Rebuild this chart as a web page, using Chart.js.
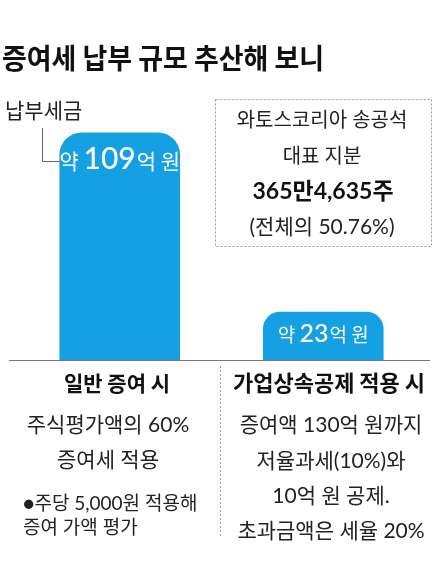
<!DOCTYPE html>
<html><head><meta charset="utf-8">
<script src="https://cdn.jsdelivr.net/npm/chart.js@4"></script>
<style>html,body{margin:0;padding:0;background:#fff;}#wrap{width:441px;height:567px;position:relative;}</style>
</head><body><div id="wrap"><canvas id="c" width="441" height="567"></canvas></div>
<script>
// ---- data ----
const chartTitle = '증여세 납부 규모 추산해 보니';
const categories = ['일반 증여 시', '가업상속공제 적용 시'];
const taxValues = [109, 23];            // 억 원
const valueNumbers = ['109', '23'];
const valuePrefix = '약 ';
const valueSuffix = '억 원';
const seriesName = '납부세금';
const boxLines = ['와토스코리아 송공석', '대표 지분', '365만4,635주', '(전체의 50.76%)'];
const leftNotes = ['주식평가액의 60%', '증여세 적용'];
const leftFootnote = ['●주당 5,000원 적용해', '증여 가액 평가'];
const rightNotes = ['증여액 130억 원까지', '저율과세(10%)와', '10억 원 공제.', '초과금액은 세율 20%'];

const KR = "'Noto Sans CJK KR', sans-serif";
const MIX = "Lato, 'Noto Sans CJK KR', sans-serif";
const BLUE = '#16a0e4';

function txt(ctx, s, x, y, font, color, align, maxW) {
  ctx.font = font; ctx.fillStyle = color; ctx.textAlign = align || 'left';
  ctx.textBaseline = 'alphabetic';
  if (maxW) ctx.fillText(s, x, y, maxW); else ctx.fillText(s, x, y);
}

const deco = {
  id: 'deco',
  beforeDraw(chart) {
    const ctx = chart.ctx;
    ctx.save(); ctx.fillStyle = '#fff'; ctx.fillRect(0, 0, chart.width, chart.height); ctx.restore();
  },
  afterDatasetsDraw(chart) {
    const ctx = chart.ctx;
    const area = chart.chartArea;
    const meta = chart.getDatasetMeta(0);
    ctx.save();
    // baseline
    ctx.strokeStyle = '#7a7a7a'; ctx.lineWidth = 1;
    ctx.beginPath(); ctx.moveTo(9, Math.round(area.bottom) + 0.5); ctx.lineTo(430, Math.round(area.bottom) + 0.5); ctx.stroke();

    // value labels inside bars
    const sizes = [{k: 21, n: 30, off: 36}, {k: 19, n: 25, off: 30}];
    meta.data.forEach((el, i) => {
      const sz = sizes[i];
      const base = el.y + sz.off;
      const fK = `400 ${sz.k}px ${KR}`, fN = `500 ${sz.n}px ${MIX}`;
      ctx.font = fK; const w1 = ctx.measureText(valuePrefix).width;
      const w3 = ctx.measureText(valueSuffix).width;
      ctx.font = fN; const w2 = ctx.measureText(valueNumbers[i]).width;
      let x = el.x - (w1 + w2 + w3 + 1) / 2;
      txt(ctx, valuePrefix, x, base, fK, '#fff'); x += w1;
      txt(ctx, valueNumbers[i], x, base, fN, '#fff'); x += w2 + 1;
      txt(ctx, valueSuffix, x, base, fK, '#fff');
    });

    // series label + leader line
    const b0 = meta.data[0];
    txt(ctx, seriesName, 5, 118, `400 21px ${KR}`, '#222');
    ctx.strokeStyle = '#666'; ctx.lineWidth = 1;
    ctx.beginPath(); ctx.moveTo(42.5, 128); ctx.lineTo(42.5, 161.5); ctx.lineTo(b0.x - b0.width / 2, 161.5); ctx.stroke();

    // title
    txt(ctx, chartTitle, 2, 69, `700 28px ${KR}`, '#111', 'left', 322);

    // dotted box
    ctx.setLineDash([2, 2]); ctx.strokeStyle = '#9a9a9a';
    ctx.strokeRect(215.5, 99.5, 216, 147);
    // divider
    ctx.beginPath(); ctx.moveTo(220.5, 366); ctx.lineTo(220.5, 538); ctx.stroke();
    ctx.setLineDash([]);

    txt(ctx, boxLines[0], 322, 127, `400 20px ${MIX}`, '#222', 'center');
    txt(ctx, boxLines[1], 322, 163, `400 20px ${MIX}`, '#222', 'center');
    txt(ctx, boxLines[2], 323, 199, `700 23px ${MIX}`, '#111', 'center');
    txt(ctx, boxLines[3], 322, 234, `400 21px ${MIX}`, '#222', 'center');

    // category headers
    txt(ctx, categories[0], 117, 391, `700 21px ${KR}`, '#111', 'center');
    txt(ctx, categories[1], 329, 391, `700 22px ${KR}`, '#111', 'center');

    // notes
    txt(ctx, leftNotes[0], 108, 432, `400 21px ${MIX}`, '#222', 'center');
    txt(ctx, leftNotes[1], 108, 467, `400 21px ${MIX}`, '#222', 'center');
    txt(ctx, leftFootnote[0], 23, 510, `400 19px ${MIX}`, '#222', 'left');
    txt(ctx, leftFootnote[1], 23, 534, `400 19px ${MIX}`, '#222', 'left');
    const ry = [432, 468, 503, 538];
    rightNotes.forEach((s, i) => txt(ctx, s, 331, ry[i], `400 21px ${MIX}`, '#222', 'center'));
    ctx.restore();
  }
};

new Chart(document.getElementById('c'), {
  type: 'bar',
  data: {
    labels: categories,
    datasets: [{
      label: seriesName,
      data: taxValues,
      backgroundColor: BLUE,
      borderWidth: 0,
      borderSkipped: 'bottom',
      borderRadius: (c) => c.dataIndex === 0 ? {topLeft: 22, topRight: 22, bottomLeft: 0, bottomRight: 0} : {topLeft: 17, topRight: 17, bottomLeft: 0, bottomRight: 0},
      barThickness: 120
    }]
  },
  options: {
    responsive: false,
    devicePixelRatio: 1,
    animation: false,
    layout: { padding: { left: 18, right: 16, top: 110, bottom: 207 } },
    plugins: { legend: { display: false }, title: { display: false }, tooltip: { enabled: false } },
    scales: {
      x: { display: false },
      y: { display: false, min: 0, max: 120 }
    }
  },
  plugins: [deco]
});
</script></body></html>
